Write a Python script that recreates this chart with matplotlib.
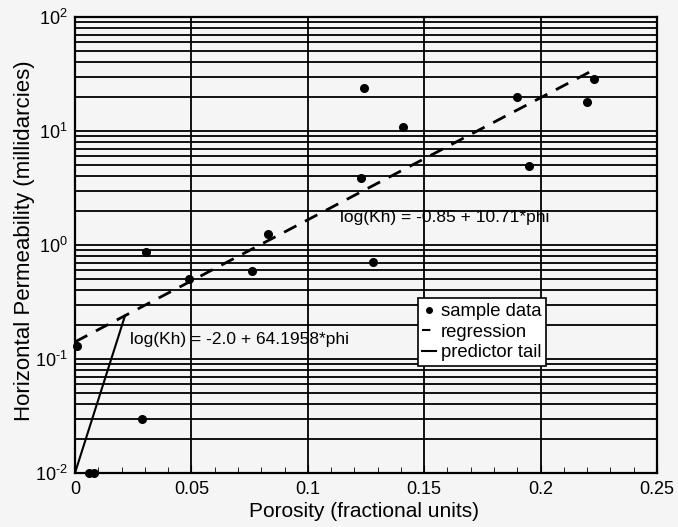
import matplotlib
matplotlib.use("Agg")
import matplotlib.pyplot as plt
import numpy as np
from matplotlib.ticker import FixedLocator, LogLocator, NullFormatter, FuncFormatter
from matplotlib.lines import Line2D

plt.rcParams['font.family'] = ['Liberation Sans', 'DejaVu Sans']
plt.rcParams['mathtext.fontset'] = 'custom'
plt.rcParams['mathtext.rm'] = 'Liberation Sans'
plt.rcParams['mathtext.it'] = 'Liberation Sans'
plt.rcParams['mathtext.bf'] = 'Liberation Sans:bold'

# sample data (porosity, horizontal permeability in mD)
phi = [0.001, 0.0305, 0.029, 0.049, 0.076, 0.083, 0.124, 0.123, 0.141, 0.128,
       0.190, 0.195, 0.220, 0.223, 0.006, 0.008]
kh = [0.13, 0.87, 0.030, 0.50, 0.59, 1.25, 23.8, 3.9, 10.8, 0.71,
      20.0, 4.9, 18.0, 28.6, 0.01, 0.01]

# regression: log(Kh) = a + b*phi
reg_a, reg_b = -0.85, 10.71
reg_range = [0.0, 0.222]
# predictor tail: log(Kh) = a + b*phi
tail_a, tail_b = -2.0, 64.1958
tail_range = [0.0, 0.0215]

xticks = [0, 0.05, 0.1, 0.15, 0.2, 0.25]
xtick_labels = ['0', '0.05', '0.1', '0.15', '0.2', '0.25']

bg = '#f5f5f5'
fig = plt.figure(figsize=(6.78, 5.27), dpi=100, facecolor=bg)
ax = fig.add_axes([0.1106, 0.1025, 0.969 - 0.1106, 0.9677 - 0.1025], facecolor=bg)

ax.set_yscale('log')
ax.set_xlim(0, 0.25)
ax.set_ylim(0.01, 100)

# grid
ax.yaxis.set_major_locator(LogLocator(base=10, numticks=10))
ax.yaxis.set_minor_locator(LogLocator(base=10, subs=np.arange(2, 10), numticks=10))
ax.yaxis.set_minor_formatter(NullFormatter())
ax.set_xticks(xticks)
ax.set_xticklabels(xtick_labels)
ax.xaxis.set_minor_locator(FixedLocator(np.arange(0, 0.2501, 0.01)))
ax.grid(True, which='both', axis='y', color='black', linewidth=1.3)
ax.grid(True, which='major', axis='x', color='black', linewidth=1.3)

def fmt(v, pos):
    e = int(round(np.log10(v)))
    return r'$\mathrm{10}^{\mathrm{%s}}$' % (str(e).replace('-', r'\text{-}'))
ax.yaxis.set_major_formatter(FuncFormatter(fmt))

ax.tick_params(which='both', direction='in', labelsize=13, top=False, right=False)
ax.tick_params(axis='y', which='both', length=0, pad=5, labelsize=13)
ax.tick_params(axis='x', which='major', length=6, pad=6)
ax.tick_params(axis='x', which='minor', length=4)
for s in ax.spines.values():
    s.set_linewidth(1.6)

# lines
xr = np.linspace(reg_range[0], reg_range[1], 50)
ax.plot(xr, 10 ** (reg_a + reg_b * xr), color='black', linestyle=(0, (5, 3.5)), linewidth=2.0, zorder=3)
xt = np.linspace(tail_range[0], tail_range[1], 50)
ax.plot(xt, 10 ** (tail_a + tail_b * xt), color='black', linestyle='-', linewidth=1.5, zorder=3)

ax.plot(phi, kh, 'o', color='black', markersize=5.5, linestyle='none', zorder=4, clip_on=False)

ax.text(0.114, 1.73, 'log(Kh) = -0.85 + 10.71*phi', fontsize=12.5, va='center', ha='left', zorder=5)
ax.text(0.0235, 0.147, 'log(Kh) = -2.0 + 64.1958*phi', fontsize=12.5, va='center', ha='left', zorder=5)

ax.set_xlabel('Porosity (fractional units)', fontsize=15)
ax.set_ylabel('Horizontal Permeability (millidarcies)', fontsize=16)
ax.xaxis.set_label_coords(0.497, -0.063)
ax.yaxis.set_label_coords(-0.069, 0.51)

handles = [Line2D([], [], color='black', marker='o', markersize=4, linestyle='none'),
           Line2D([], [], color='black', linestyle=(0, (4, 20)), linewidth=1.5),
           Line2D([], [], color='black', linestyle='-', linewidth=1.5)]
leg = ax.legend(handles, ['sample data', 'regression', 'predictor tail'],
                loc='upper left', bbox_to_anchor=(0.589, 0.383), fontsize=13.3,
                frameon=True, fancybox=False, edgecolor='black', facecolor='white',
                framealpha=1, handlelength=0.75, handletextpad=0.25, borderpad=0.25,
                labelspacing=0.2, borderaxespad=0)
leg.get_frame().set_linewidth(1.2)
leg.set_zorder(6)

fig.savefig('out.png', dpi=100, facecolor=bg)
